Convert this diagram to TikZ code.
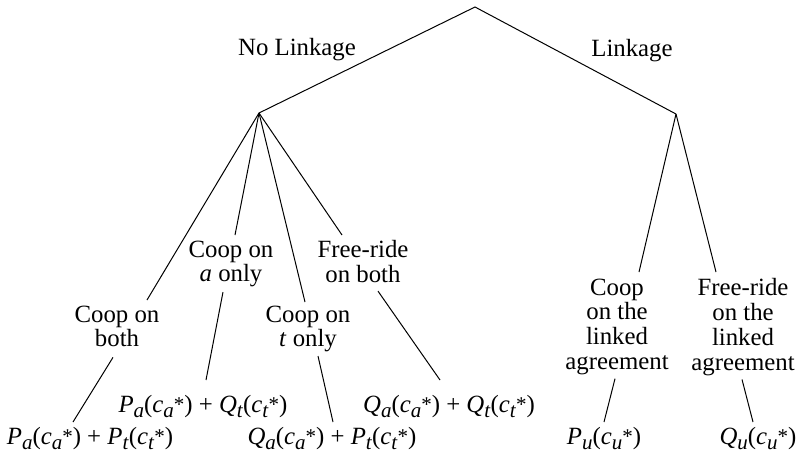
\documentclass[tikz,border=0pt]{standalone}
\usepackage{fontspec}
\setmainfont{Liberation Serif}
\newcommand{\sbs}[1]{\raisebox{-5pt}{\fontsize{21}{21}\selectfont\textit{#1}}}
\newcommand{\stx}{\raisebox{0.5pt}{\fontsize{21}{21}\selectfont *}}
\newcommand{\cst}[1]{\textit{c}\sbs{#1}\stx}
\newcommand{\fn}[2]{\textit{#1}\sbs{#2}}
\begin{document}
\begin{tikzpicture}[x=1pt,y=-1pt,
  lbl/.style={inner sep=0pt, align=center, anchor=north, font=\fontsize{24.8}{24.8}\selectfont},
  pay/.style={inner sep=0pt, anchor=base, font=\fontsize{24.8}{24.8}\selectfont},
  edge/.style={line width=1pt}]
\useasboundingbox (0,0) rectangle (799,461);
% branch points
\coordinate (root) at (475,7);
\coordinate (nl) at (259,113);
\coordinate (lk) at (676,114);
% top labels
\node[pay] (nolink) at (297,55) {No Linkage};
\node[pay] (link) at (632,56) {Linkage};
% labels
\node[lbl] (cb) at (117,305.5) {Coop on\\both};
\node[lbl] (ca) at (231,240.5) {Coop on\\\textit{a} only};
\node[lbl] (ct) at (308,305.5) {Coop on\\\textit{t} only};
\node[lbl] (fr) at (363,240.5) {Free-ride\\on both};
\node[lbl] (cl) at (617,278.5) {Coop\\on the\\linked\\agreement};
\node[lbl] (fl) at (743,278.5) {Free-ride\\on the\\linked\\agreement};
% payoffs
\node[pay] (p1) at (90,444) {\fn{P}{a}(\cst{a}) + \fn{P}{t}(\cst{t})};
\node[pay] (p2) at (203,412) {\fn{P}{a}(\cst{a}) + \fn{Q}{t}(\cst{t})};
\node[pay] (p3) at (332,444) {\fn{Q}{a}(\cst{a}) + \fn{P}{t}(\cst{t})};
\node[pay] (p4) at (449,412) {\fn{Q}{a}(\cst{a}) + \fn{Q}{t}(\cst{t})};
\node[pay] (p5) at (604,444) {\fn{P}{u}(\cst{u})};
\node[pay] (p6) at (758,444) {\fn{Q}{u}(\cst{u})};
% connectors
\draw[edge] (nl) -- (root) -- (lk);
\draw[edge] (nl) -- ([xshift=30pt,yshift=5.5pt]cb.north);
\draw[edge] (nl) -- ([xshift=4pt,yshift=5.5pt]ca.north);
\draw[edge] (nl) -- ([xshift=-3pt,yshift=3.5pt]ct.north);
\draw[edge] (nl) -- ([xshift=-21pt,yshift=5.5pt]fr.north);
\draw[edge] (lk) -- ([xshift=22pt,yshift=6.5pt]cl.north);
\draw[edge] (lk) -- ([xshift=-27pt,yshift=6.5pt]fl.north);
\draw[edge] ([xshift=-4pt,yshift=-10pt]cb.south) -- ([xshift=-17pt,yshift=22pt]p1.base);
\draw[edge] ([xshift=-8pt,yshift=-4.6pt]ca.south) -- ([xshift=3pt,yshift=32pt]p2.base);
\draw[edge] ([xshift=10pt,yshift=-3.6pt]ct.south) -- ([xshift=1pt,yshift=22pt]p3.base);
\draw[edge] ([xshift=15pt,yshift=-8pt]fr.south) -- ([xshift=-9pt,yshift=32pt]p4.base);
\draw[edge] ([xshift=-2pt,yshift=-3.6pt]cl.south) -- ([xshift=0pt,yshift=22pt]p5.base);
\draw[edge] ([xshift=-1pt,yshift=-3.6pt]fl.south) -- ([xshift=-5pt,yshift=22pt]p6.base);
\end{tikzpicture}
\end{document}
